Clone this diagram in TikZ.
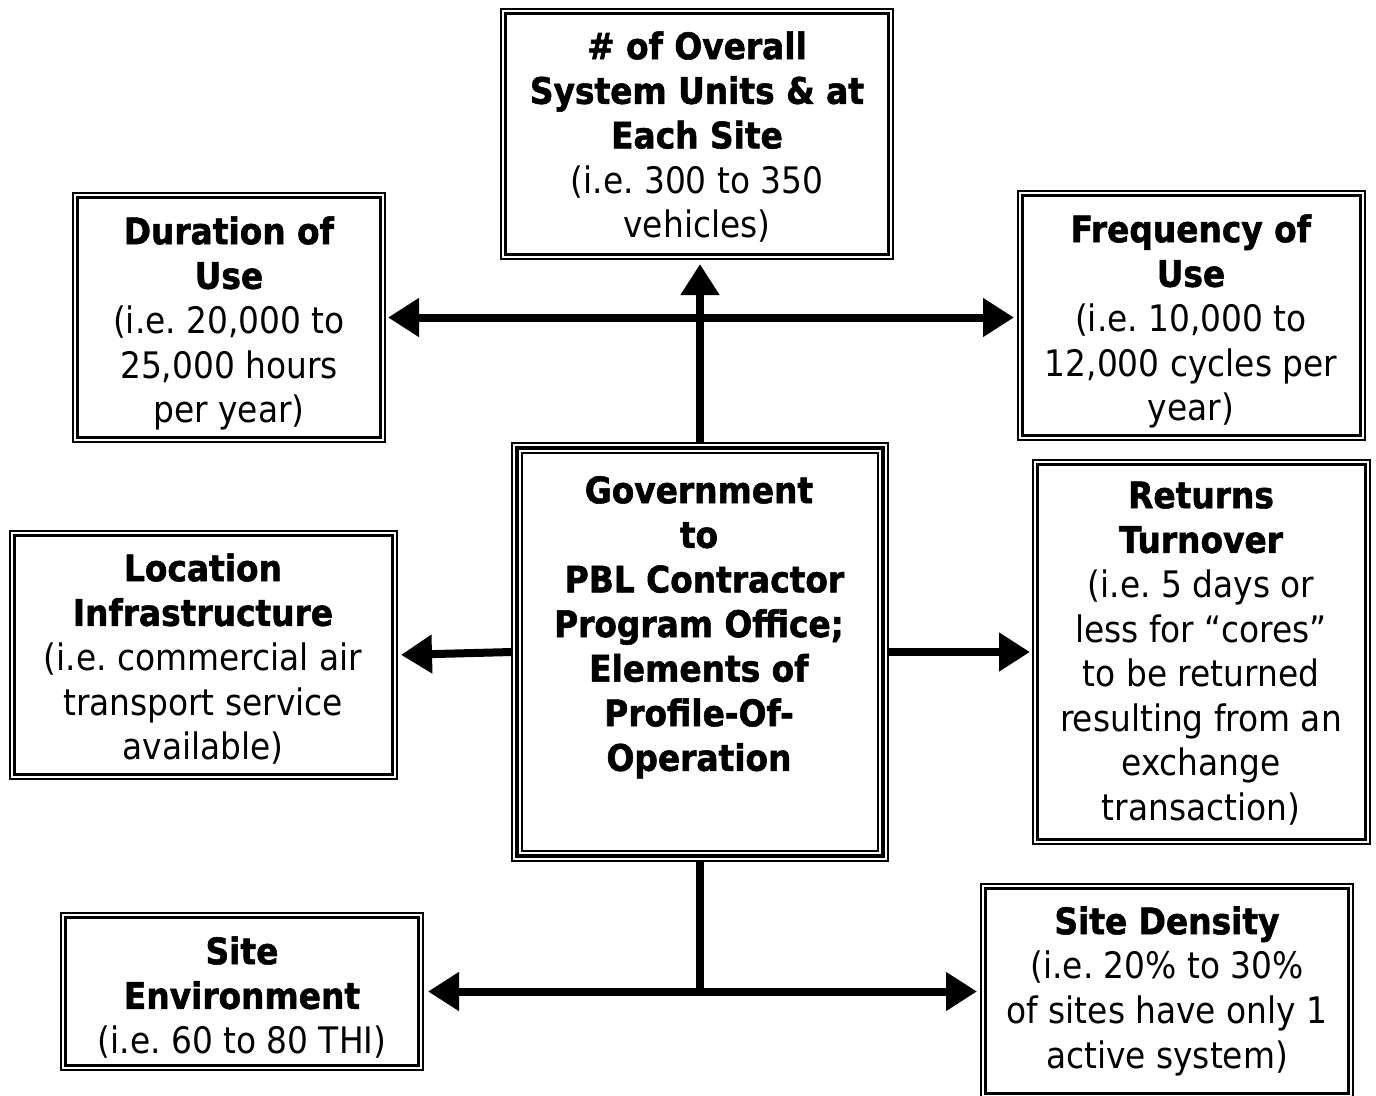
\documentclass[tikz,border=0pt]{standalone}
\usepackage{fontspec}
\setmainfont{DejaVu Sans Condensed}[BoldFeatures={FakeBold=1.5}]
\usetikzlibrary{arrows.meta}

% box with a thin outer line and a thicker inner line; arguments: name, left, top, right, bottom
\newcommand\dblbox[5]{%
  \node[outerline, minimum width={#4-#2-2}, minimum height={#5-#3-2}] (#1) at ({(#2+#4)/2},{(#3+#5)/2}) {};
  \draw[line width=3pt] ([shift={(4.5pt,4.5pt)}]#1.south west) rectangle ([shift={(-4.5pt,-4.5pt)}]#1.north east);}

\begin{document}
\frenchspacing
\begin{tikzpicture}[x=1pt,y=-1pt,
  outerline/.style={draw, line width=2pt, inner sep=0pt, outer sep=0pt},
  boxtext/.style={anchor=north, align=center, inner sep=0pt, font=\fontsize{36.5}{44.6}\selectfont},
  conn/.style={line width=8pt, -{Triangle[length=31pt,width=37pt]}},
  conntwo/.style={line width=8pt, {Triangle[length=31pt,width=37pt]}-{Triangle[length=31pt,width=37pt]}},
]
\useasboundingbox (0,0) rectangle (1376,1095);
\clip (0,0) rectangle (1376,1095);

% surrounding boxes
\dblbox{units}{500}{8}{894}{260}
\dblbox{dur}{72}{192}{386}{443}
\dblbox{freq}{1017}{190}{1366}{441}
\dblbox{loc}{9}{530}{398}{780}
\dblbox{ret}{1032}{459}{1371}{845}
\dblbox{env}{60}{912}{424}{1071}
\dblbox{dens}{980}{883}{1354}{1099}

% central box: thin, thick, thin
\node[outerline, minimum width=376, minimum height=418] (ctr) at (700,652) {};
\draw[line width=4pt] ([shift={(5pt,5pt)}]ctr.south west) rectangle ([shift={(-5pt,-5pt)}]ctr.north east);
\draw[line width=2pt] ([shift={(10pt,10pt)}]ctr.south west) rectangle ([shift={(-10pt,-10pt)}]ctr.north east);

% texts
\node[boxtext] (unitstext) at (697,29) {\rule{0pt}{30pt}\textbf{\# of Overall}\\\textbf{System Units \& at}\\\textbf{Each Site}\\(i.e. 300 to 350\\vehicles)};
\node[boxtext] (durtext) at (229,214) {\rule{0pt}{30pt}\textbf{Duration of}\\\textbf{Use}\\(i.e. 20,000 to\\25,000 hours\\per year)};
\node[boxtext] (freqtext) at (1191,212) {\rule{0pt}{30pt}\textbf{Frequency of}\\\textbf{Use}\\(i.e. 10,000 to\\12,000 cycles per\\year)};
\node[boxtext] (ctrtext) at (699,473) {\rule{0pt}{30pt}\textbf{Government}\\\textbf{to}\\\hspace*{0.3em}\textbf{PBL Contractor}\\\textbf{Program Office;}\\\textbf{Elements of}\\\textbf{Profile-Of-}\\\textbf{Operation}};
\node[boxtext] (loctext) at (203,551) {\rule{0pt}{30pt}\textbf{Location}\\\textbf{Infrastructure}\\(i.e. commercial air\\transport service\\available)};
\node[boxtext] (rettext) at (1201,478) {\rule{0pt}{30pt}\textbf{Returns}\\\textbf{Turnover}\\(i.e. 5 days or\\less for “cores”\\to be returned\\resulting from an\\exchange\\transaction)};
\node[boxtext] (envtext) at (242,934) {\rule{0pt}{30pt}\textbf{Site}\\\textbf{Environment}\\(i.e. 60 to 80 THI)};
\node[boxtext] (denstext) at (1167,904) {\rule{0pt}{30pt}\textbf{Site Density}\\(i.e. 20\% to 30\%\\of sites have only 1\\active system)};

% connectors
\draw[conn, shorten >=5pt] (ctr.north) -- (ctr.north |- units.south);
\draw[conntwo, shorten <=3pt, shorten >=4pt] (dur.east) -- (dur.east -| freq.west);
\draw[conn, shorten >=4pt] (ctr.west) -- (loc.east);
\draw[conn, shorten >=3pt] (ctr.east) -- (ret.west);
\coordinate (split) at (ctr.south |- env.east);
\draw[line width=8pt] (ctr.south) -- (split);
\draw[conntwo, shorten <=5pt, shorten >=4pt] (env.east) -- (env.east -| dens.west);
\end{tikzpicture}
\end{document}
